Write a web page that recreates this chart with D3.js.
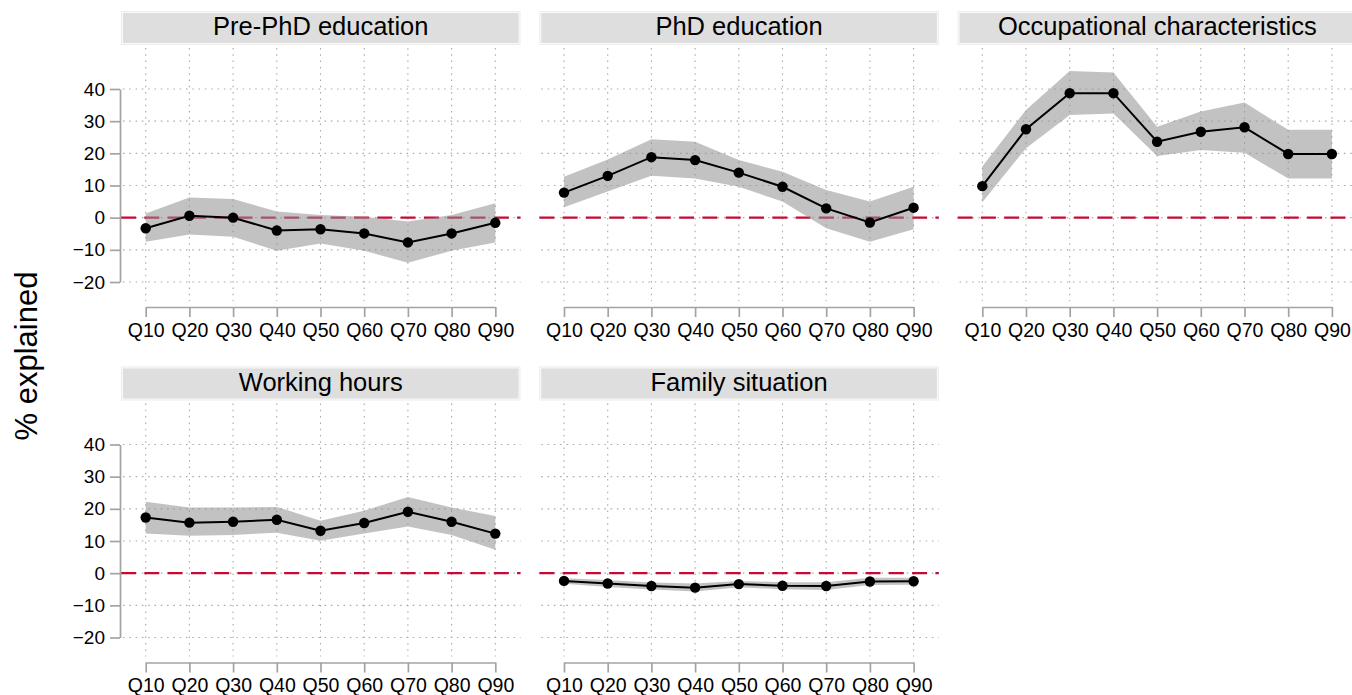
<!DOCTYPE html>
<html>
<head>
<meta charset="utf-8">
<script src="https://cdn.jsdelivr.net/npm/d3@7"></script>
<style>
  html, body { margin: 0; padding: 0; background: #ffffff; }
  svg { display: block; font-family: "Liberation Sans", Arial, Helvetica, sans-serif; }
</style>
</head>
<body>
<svg id="chart" width="1352" height="695"></svg>
<script>
// ---------------- data ----------------
const quantiles = ["Q10", "Q20", "Q30", "Q40", "Q50", "Q60", "Q70", "Q80", "Q90"];
const panelTitles = ["Pre-PhD education", "PhD education", "Occupational characteristics", "Working hours", "Family situation"];
const yTicks = [-20, -10, 0, 10, 20, 30, 40];
const yAxisTitle = "% explained";

const estPrePhD  = [-3.3, 0.6, 0.0, -4.0, -3.6, -4.9, -7.7, -4.9, -1.6];
const lowPrePhD  = [-7.5, -5.2, -5.9, -10.3, -8.0, -10.3, -14.0, -10.3, -7.7];
const highPrePhD = [1.3, 6.3, 5.8, 1.9, 0.8, 0.3, -1.2, 0.8, 4.5];

const estPhD  = [7.8, 13.0, 18.8, 17.9, 14.0, 9.6, 2.9, -1.5, 3.1];
const lowPhD  = [3.2, 8.1, 13.0, 12.2, 9.6, 5.0, -3.3, -7.5, -3.6];
const highPhD = [12.7, 18.1, 24.4, 23.6, 17.9, 14.3, 8.6, 5.0, 9.6];

const estOcc  = [9.8, 27.5, 38.7, 38.7, 23.6, 26.7, 28.1, 19.8, 19.8];
const lowOcc  = [4.8, 21.6, 31.9, 32.4, 19.2, 21.0, 20.2, 12.2, 12.2];
const highOcc = [15.9, 33.5, 45.6, 45.1, 28.3, 33.0, 35.8, 27.3, 27.3];

const estHours  = [17.3, 15.7, 16.0, 16.6, 13.2, 15.6, 19.1, 16.0, 12.3];
const lowHours  = [12.3, 11.6, 11.9, 12.6, 10.1, 12.3, 14.5, 11.9, 7.3];
const highHours = [22.2, 20.4, 20.4, 20.6, 16.3, 19.4, 23.7, 20.4, 17.8];

const estFamily  = [-2.4, -3.2, -4.0, -4.5, -3.4, -3.9, -4.0, -2.6, -2.5];
const lowFamily  = [-3.3, -4.3, -5.1, -5.7, -4.4, -5.0, -5.2, -3.7, -3.6];
const highFamily = [-1.6, -2.1, -2.9, -3.2, -2.4, -2.8, -2.8, -1.4, -1.4];

const seriesEst  = [estPrePhD, estPhD, estOcc, estHours, estFamily];
const seriesLow  = [lowPrePhD, lowPhD, lowOcc, lowHours, lowFamily];
const seriesHigh = [highPrePhD, highPhD, highOcc, highHours, highFamily];

// ---------------- layout ----------------
const svg = d3.select("#chart");
const panelW = 399.5;
const colStep = 418.3;
const rowStep = 355.5;
const left0 = 121;

const axisColor = "#a3a3a3";
const gridColor = "#a8a8a8";

// y-axis title
svg.append("text")
  .attr("transform", "translate(37,356) rotate(-90)")
  .attr("text-anchor", "middle")
  .attr("font-size", 31)
  .attr("fill", "#000")
  .text(yAxisTitle);

panelTitles.forEach((title, i) => {
  const col = i % 3, row = Math.floor(i / 3);
  const x0 = left0 + col * colStep;
  const dy = row * rowStep;

  const x = d3.scalePoint().domain(quantiles).range([x0 + 24.7, x0 + 374.3]);
  const y = d3.scaleLinear().domain([-20, 40]).range([282 + dy, 89 + dy]);

  const g = svg.append("g");

  // strip
  g.append("rect")
    .attr("x", x0).attr("y", 11 + dy)
    .attr("width", panelW).attr("height", 34)
    .attr("fill", "#ececec");
  g.append("rect")
    .attr("x", x0 + 1.5).attr("y", 12.5 + dy)
    .attr("width", panelW - 3).attr("height", 31)
    .attr("fill", "#dedede")
    .attr("stroke", "#ffffff").attr("stroke-width", 0.8);
  g.append("text")
    .attr("x", x0 + panelW / 2).attr("y", 35 + dy)
    .attr("text-anchor", "middle")
    .attr("font-size", 25.5)
    .attr("fill", "#000")
    .text(title);

  // gridlines
  g.selectAll(".hg").data(yTicks).enter().append("line")
    .attr("x1", x0 + 2).attr("x2", x0 + panelW)
    .attr("y1", d => y(d)).attr("y2", d => y(d))
    .attr("stroke", gridColor).attr("stroke-width", 1.1)
    .attr("stroke-dasharray", "1.5,4.8");
  g.selectAll(".vg").data(quantiles).enter().append("line")
    .attr("x1", d => x(d)).attr("x2", d => x(d))
    .attr("y1", 48 + dy).attr("y2", 301 + dy)
    .attr("stroke", gridColor).attr("stroke-width", 1.1)
    .attr("stroke-dasharray", "1.5,4.8");

  // zero reference line
  g.append("line")
    .attr("x1", x0).attr("x2", x0 + panelW)
    .attr("y1", y(0)).attr("y2", y(0))
    .attr("stroke", "#c40a35").attr("stroke-width", 2.2)
    .attr("stroke-dasharray", "15,8.3");

  const est = seriesEst[i], lo = seriesLow[i], hi = seriesHigh[i];
  const rows = quantiles.map((q, k) => ({ q, est: est[k], lo: lo[k], hi: hi[k] }));

  // ribbon
  g.append("path")
    .datum(rows)
    .attr("d", d3.area().x(d => x(d.q)).y0(d => y(d.lo)).y1(d => y(d.hi)))
    .attr("fill", "#8f8f8f").attr("fill-opacity", 0.55);

  // line
  g.append("path")
    .datum(rows)
    .attr("d", d3.line().x(d => x(d.q)).y(d => y(d.est)))
    .attr("fill", "none").attr("stroke", "#000").attr("stroke-width", 2);

  // points
  g.selectAll(".pt").data(rows).enter().append("circle")
    .attr("cx", d => x(d.q)).attr("cy", d => y(d.est))
    .attr("r", 5.2).attr("fill", "#000");

  // x axis
  const xa = g.append("g")
    .attr("transform", `translate(0,${307 + dy})`)
    .call(d3.axisBottom(x).tickSize(10).tickSizeOuter(0).tickPadding(6));
  xa.select(".domain").attr("stroke", axisColor).attr("stroke-width", 1.7);
  xa.selectAll(".tick line").attr("stroke", axisColor).attr("stroke-width", 1.7);
  xa.selectAll(".tick text").attr("font-size", 19.5).attr("fill", "#000")
    .attr("font-family", "Liberation Sans, Arial, sans-serif");

  // y axis on first column
  if (col === 0) {
    const ya = g.append("g")
      .attr("transform", `translate(${x0 - 1},0)`)
      .call(d3.axisLeft(y).tickValues(yTicks).tickSize(10).tickSizeOuter(0).tickPadding(5)
        .tickFormat(d3.format("d")));
    ya.select(".domain").attr("stroke", axisColor).attr("stroke-width", 1.7);
    ya.selectAll(".tick line").attr("stroke", axisColor).attr("stroke-width", 1.7);
    ya.selectAll(".tick text").attr("font-size", 19).attr("fill", "#000")
      .attr("font-family", "Liberation Sans, Arial, sans-serif");
  }
});
</script>
</body>
</html>
